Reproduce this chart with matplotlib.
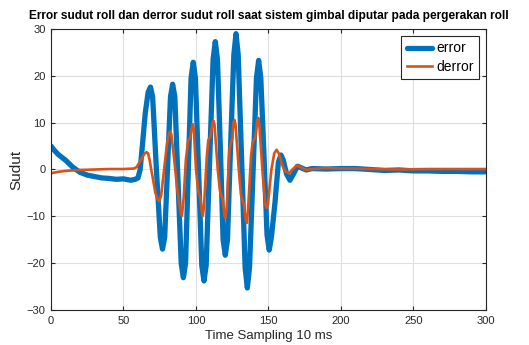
import matplotlib
matplotlib.use("Agg")
import matplotlib.pyplot as plt

plt.rcParams['font.family'] = ['Liberation Sans', 'DejaVu Sans']

# Error sudut roll
err_x = [0, 2, 5, 10, 15, 20, 25, 30, 35, 40, 45, 50, 55, 58, 60, 61.5, 63, 65, 67, 68.6, 70.1,
         72.7, 75.4, 76.9, 78.4, 80.4, 82.4, 83.9, 85.4, 87.6, 89.8, 91.3, 92.8, 94.7, 96.6,
         98.1, 99.6, 101.8, 104, 105.5, 107, 109.4, 111.8, 113.3, 114.8, 116.8, 118.7, 120.2,
         121.7, 123.9, 126.1, 127.6, 129.1, 131.5, 133.9, 135.4, 136.9, 139.3, 141.7, 143.2,
         144.7, 146.9, 149, 150.5, 152, 154.5, 156.8, 158.6, 160.2, 162.5, 164.8, 166.8, 170,
         173, 176, 180, 190, 200, 210, 220, 230, 240, 250, 260, 270, 280, 290, 300]
err_y = [5.0, 4.2, 3.2, 2.0, 0.5, -0.6, -1.2, -1.5, -1.8, -1.9, -2.1, -2.0, -2.3, -2.1, -1.8, 0.0,
         5.0, 12.0, 16.5, 17.6, 15.5, 0.0, -14.5, -17.0, -14.5, 0.5, 15.5, 18.2, 15.5, -2.5,
         -20.0, -23.1, -20.0, 0.0, 19.5, 22.9, 19.5, -0.5, -20.5, -23.8, -20.5, 1.8, 23.5, 27.3,
         23.5, 4.5, -15.0, -18.3, -15.0, 5.3, 24.5, 29.0, 24.5, 1.8, -21.0, -25.3, -21.0, -1.0,
         19.5, 23.3, 19.5, 3.0, -14.0, -17.2, -14.5, -7.0, 1.5, 3.1, 2.0, -1.0, -2.3, -1.2, 0.7,
         0.3, -0.1, 0.2, 0.1, 0.2, 0.2, 0.0, -0.2, -0.1, -0.3, -0.3, -0.4, -0.4, -0.5, -0.5]

# Derror sudut roll
derr_x = [0, 5, 10, 20, 30, 40, 50, 57, 59, 62, 64.5, 66, 67, 68, 70, 72, 73.5, 74.7, 76, 78,
          80, 81.3, 82.1, 83, 85, 87, 88.5, 89.5, 90.3, 91.5, 93, 94.5, 96, 97, 97.7, 98.5, 100,
          101.5, 103, 104, 104.7, 105.5, 107.5, 108.5, 110, 111.3, 112, 112.8, 115, 116.5,
          118.5, 119.5, 120.2, 121.2, 123, 124, 125, 125.8, 126.5, 127.3, 129.5, 131, 133, 134.3,
          135.1, 136, 138, 139, 141, 142.3, 143, 143.8, 146, 147.8, 148.7, 149.6, 152, 154,
          155.6, 157, 160, 162, 164.3, 166.5, 169.5, 172, 176, 180, 190, 200, 210, 220, 240,
          260, 280, 300]
derr_y = [-0.8, -0.5, -0.3, -0.1, 0.0, 0.1, 0.1, 0.2, 0.5, 2.0, 3.4, 3.7, 3.4, 2.0, -1.5, -5.0,
          -6.3, -6.8, -5.5, 0.0, 5.5, 7.6, 8.1, 7.5, 2.0, -4.0, -7.5, -9.3, -9.9, -6.0, 2.0, 6.0,
          6.8, 8.8, 9.7, 8.5, 0.0, -4.5, -6.0, -9.0, -9.9, -8.0, 3.0, 6.3, 7.0, 9.8, 10.4, 9.5,
          0.0, -4.5, -6.5, -9.5, -10.4, -8.0, 4.0, 5.7, 6.5, 10.0, 10.6, 9.5, 0.0, -5.4, -7.5,
          -10.8, -11.4, -8.0, 3.0, 5.7, 7.0, 10.5, 11.0, 9.0, -1.0, -7.5, -8.2, -7.5, 0.0, 3.5,
          4.2, 3.5, 0.5, -0.5, -0.8, 0.0, 0.9, 0.5, -0.1, 0.1, 0.3, 0.2, 0.2, 0.1, 0.0, 0.1, 0.1,
          0.1]

fig = plt.figure(figsize=(5.29, 3.45), dpi=100)
ax = fig.add_axes([0.0964, 0.1014, 0.8223, 0.8146])

ax.plot(err_x, err_y, color="#0072BD", linewidth=3.8, label="error",
        solid_joinstyle="round", solid_capstyle="round")
ax.plot(derr_x, derr_y, color="#D95319", linewidth=1.9, label="derror",
        solid_joinstyle="round")

ax.set_xlim(0, 300)
ax.set_ylim(-30, 30)
ax.set_xticks(range(0, 301, 50))
ax.set_yticks(range(-30, 31, 10))
ax.grid(True, color="#DFDFDF", linewidth=0.8)
ax.set_axisbelow(True)
ax.tick_params(direction="in", top=True, right=True, labelsize=8, colors="#262626",
               length=3, pad=4)
for s in ax.spines.values():
    s.set_color("#262626")
    s.set_linewidth(0.8)

ax.set_title("Error sudut roll dan derror sudut roll saat sistem gimbal diputar pada pergerakan roll",
             fontsize=8.6, fontweight="bold", pad=7)
ax.set_xlabel("Time Sampling 10 ms", fontsize=9.5, color="#262626", labelpad=3)
ax.set_ylabel("Sudut", fontsize=11, color="#262626", labelpad=2)

leg = ax.legend(loc="upper right", fontsize=10, fancybox=False, edgecolor="#262626",
                borderaxespad=0.5, handlelength=1.8, handletextpad=0.3, borderpad=0.4,
                labelspacing=0.3, framealpha=1)
leg.get_frame().set_linewidth(0.8)

fig.savefig("out.png", dpi=100)
